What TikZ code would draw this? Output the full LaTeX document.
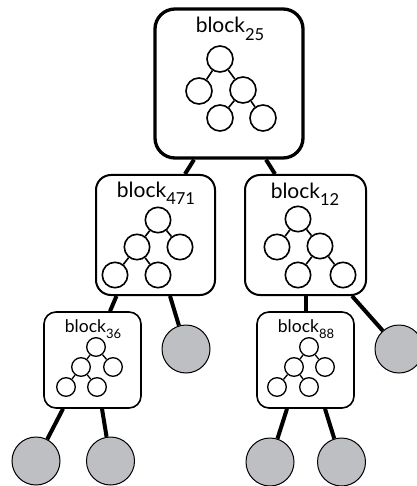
\documentclass[tikz,border=0pt]{standalone}
\usepackage{fontspec}
\setmainfont{Lato}
\definecolor{leafgray}{RGB}{190,191,194}
\newcommand\bigblk[1]{\fontsize{21}{21}\selectfont block\raisebox{-7.5pt}{\fontsize{16.5}{16.5}\selectfont #1}}
\newcommand\smallblk[1]{\fontsize{17.5}{17.5}\selectfont block\raisebox{-6pt}{\fontsize{13}{13}\selectfont #1}}
\begin{document}
\begin{tikzpicture}[x=1pt,y=-1pt,
  box/.style={draw, rounded corners=15pt, fill=white, inner sep=0pt},
  mini/.style={circle, draw, fill=white, inner sep=0pt, line width=1.6pt, minimum size=26pt},
  smini/.style={circle, draw, fill=white, inner sep=0pt, line width=1.3pt, minimum size=18.6pt},
  leaf/.style={circle, draw, fill=leafgray, line width=1pt, minimum size=48pt, inner sep=0pt},
  link/.style={line width=4pt},
  tlink/.style={line width=1.6pt},
  slink/.style={line width=1.3pt},
  lab/.style={anchor=base, inner sep=0pt}]
\useasboundingbox (0,0) rectangle (416,486);
% boxes
\node[box, line width=3.3pt, rounded corners=20pt, minimum width=148pt, minimum height=149pt] (top) at (229,83.5) {};
\node[box, line width=2pt, minimum width=119pt, minimum height=120pt] (ml) at (155.5,235) {};
\node[box, line width=2pt, minimum width=121pt, minimum height=120pt] (mr) at (305.5,235) {};
\node[box, line width=1.6pt, rounded corners=12pt, minimum width=97pt, minimum height=96pt] (bl) at (92.5,360) {};
\node[box, line width=1.6pt, rounded corners=12pt, minimum width=97pt, minimum height=96pt] (br) at (305.5,360) {};
% leaves
\node[leaf] (g1) at (186,349) {};
\node[leaf] (g2) at (399,349) {};
\node[leaf] (g3) at (36,461) {};
\node[leaf] (g4) at (110.5,461) {};
\node[leaf] (g5) at (270,462) {};
\node[leaf] (g6) at (341.5,462) {};
% connectors
\draw[link] ([xshift=-35pt]top.south) -- ([xshift=29.5pt]ml.north);
\draw[link] ([xshift=37pt]top.south) -- ([xshift=-30.5pt]mr.north);
\draw[link] ([xshift=-39pt]ml.south) -- ([xshift=17.5pt]bl.north);
\draw[link] ([xshift=14.5pt]ml.south) -- (g1);
\draw[link] (br.north |- mr.south) -- (br.north);
\draw[link] ([xshift=46.5pt]mr.south) -- (g2);
\draw[link] ([xshift=-29.5pt]bl.south) -- (g3);
\draw[link] ([xshift=9.5pt]bl.south) -- (g4);
\draw[link] ([xshift=-18.5pt]br.south) -- (g5);
\draw[link] ([xshift=19.5pt]br.south) -- (g6);
% labels
\node[lab] (ltop) at (230,33) {\bigblk{25}};
\node[lab] (lml) at (156,197) {\bigblk{471}};
\node[lab] (lmr) at (305,198) {\bigblk{12}};
\node[lab] (lbl) at (93,332) {\smallblk{36}};
\node[lab] (lbr) at (306,332) {\smallblk{88}};
% top mini tree
\node[mini] (a0) at (220,59) {};
\node[mini] (a1) at (199,91) {};
\node[mini] (a2) at (243,90) {};
\node[mini] (a3) at (220,118) {};
\node[mini] (a4) at (263,118) {};
\draw[tlink] (a0) -- (a1); \draw[tlink] (a0) -- (a2);
\draw[tlink] (a2) -- (a3); \draw[tlink] (a2) -- (a4);
% mid-left mini tree
\node[mini, minimum size=25.4pt] (b0) at (158,220) {};
\node[mini, minimum size=25.4pt] (b1) at (137,247) {};
\node[mini, minimum size=25.4pt] (b2) at (180,247) {};
\node[mini, minimum size=25.4pt] (b3) at (115,275) {};
\node[mini, minimum size=25.4pt] (b4) at (158,275) {};
\draw[tlink] (b0) -- (b1); \draw[tlink] (b0) -- (b2);
\draw[tlink] (b1) -- (b3); \draw[tlink] (b1) -- (b4);
% mid-right mini tree
\node[mini, minimum size=25.4pt] (c0) at (298,219) {};
\node[mini, minimum size=25.4pt] (c1) at (277,247) {};
\node[mini, minimum size=25.4pt] (c2) at (320,246) {};
\node[mini, minimum size=25.4pt] (c3) at (298,275) {};
\node[mini, minimum size=25.4pt] (c4) at (343,275) {};
\draw[tlink] (c0) -- (c1); \draw[tlink] (c0) -- (c2);
\draw[tlink] (c2) -- (c3); \draw[tlink] (c2) -- (c4);
% bottom-left mini tree
\node[smini] (d0) at (96,347) {};
\node[smini] (d1) at (81,367) {};
\node[smini] (d2) at (113,367) {};
\node[smini] (d3) at (66,387) {};
\node[smini] (d4) at (97,387) {};
\draw[slink] (d0) -- (d1); \draw[slink] (d0) -- (d2);
\draw[slink] (d1) -- (d3); \draw[slink] (d1) -- (d4);
% bottom-right mini tree
\node[smini] (e0) at (309,347) {};
\node[smini] (e1) at (294,367) {};
\node[smini] (e2) at (325,367) {};
\node[smini] (e3) at (277,387) {};
\node[smini] (e4) at (309,387) {};
\draw[slink] (e0) -- (e1); \draw[slink] (e0) -- (e2);
\draw[slink] (e1) -- (e3); \draw[slink] (e1) -- (e4);
\end{tikzpicture}
\end{document}
